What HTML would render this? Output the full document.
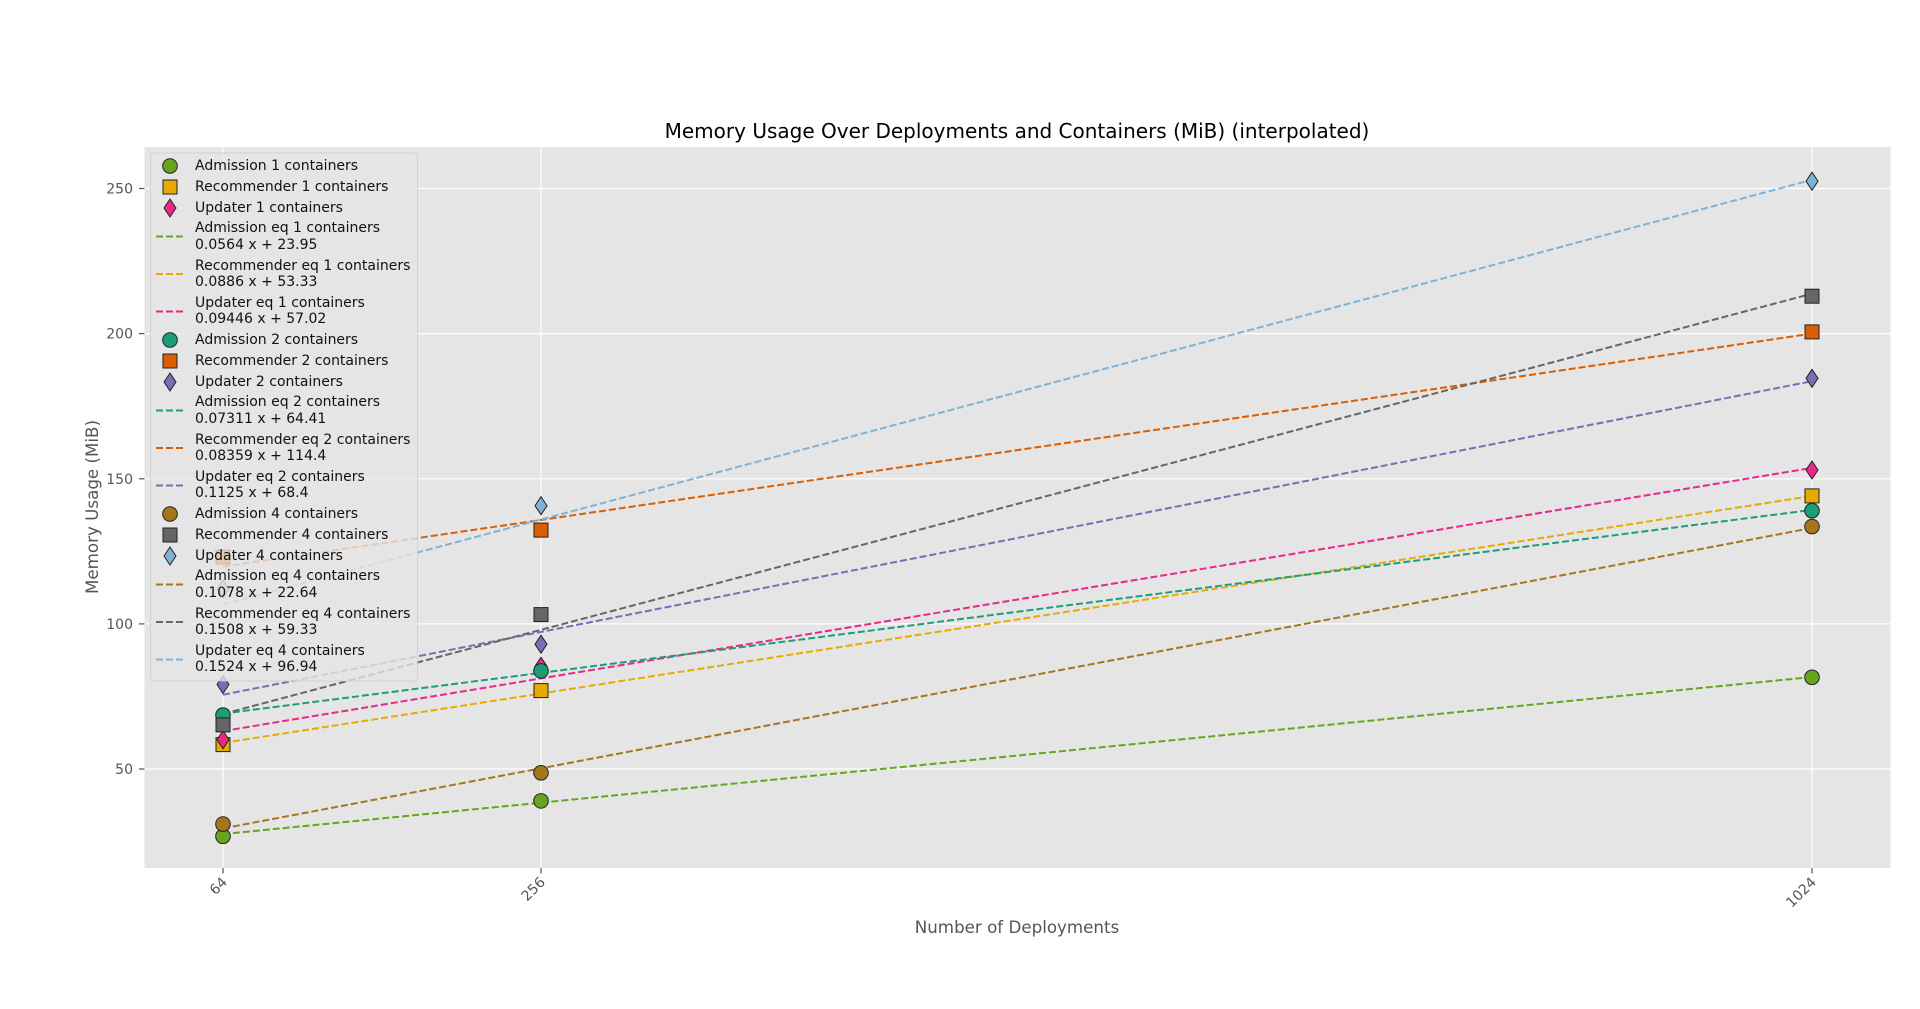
<!DOCTYPE html>
<html><head><meta charset="utf-8"><style>
html,body{margin:0;padding:0;background:#fff;}
svg{display:block;font-family:"DejaVu Sans","Liberation Sans",sans-serif;}
</style></head><body>
<svg width="1920" height="1009" viewBox="0 0 1920 1009" xmlns="http://www.w3.org/2000/svg">
<defs>
<clipPath id="ax"><rect x="144.5" y="147" width="1746" height="721"/></clipPath>
</defs>
<rect x="144.5" y="147" width="1746" height="721" fill="#E5E5E5"/>
<g stroke="#fff" stroke-width="1.2">
<line x1="144.5" x2="1890.5" y1="188.5" y2="188.5"/>
<line x1="144.5" x2="1890.5" y1="333.6" y2="333.6"/>
<line x1="144.5" x2="1890.5" y1="478.8" y2="478.8"/>
<line x1="144.5" x2="1890.5" y1="623.9" y2="623.9"/>
<line x1="144.5" x2="1890.5" y1="769" y2="769"/>
<line x1="223" x2="223" y1="147" y2="868"/>
<line x1="541" x2="541" y1="147" y2="868"/>
<line x1="1812" x2="1812" y1="147" y2="868"/>
</g>
<g stroke="#555" stroke-width="1.2">
<line x1="139" x2="144.5" y1="188.5" y2="188.5"/>
<line x1="139" x2="144.5" y1="333.6" y2="333.6"/>
<line x1="139" x2="144.5" y1="478.8" y2="478.8"/>
<line x1="139" x2="144.5" y1="623.9" y2="623.9"/>
<line x1="139" x2="144.5" y1="769" y2="769"/>
<line x1="223" x2="223" y1="868" y2="873.5"/>
<line x1="541" x2="541" y1="868" y2="873.5"/>
<line x1="1812" x2="1812" y1="868" y2="873.5"/>
</g>
<g fill="#555" font-size="14" text-anchor="end">
<text x="133" y="193.5">250</text>
<text x="133" y="338.6">200</text>
<text x="133" y="483.8">150</text>
<text x="133" y="628.9">100</text>
<text x="133" y="774">50</text>
</g>
<g fill="#555" font-size="14" text-anchor="end">
<text transform="translate(228,883) rotate(-45)">64</text>
<text transform="translate(546,883) rotate(-45)">256</text>
<text transform="translate(1817,883) rotate(-45)">1024</text>
</g>
<text x="1017" y="933" fill="#555" font-size="16.7" text-anchor="middle">Number of Deployments</text>
<text transform="translate(98,507) rotate(-90)" fill="#555" font-size="16.7" text-anchor="middle">Memory Usage (MiB)</text>
<text x="1017" y="138" fill="#000" font-size="20" text-anchor="middle">Memory Usage Over Deployments and Containers (MiB) (interpolated)</text>

<g clip-path="url(#ax)" fill="none" stroke-width="2" stroke-dasharray="7,3">
<line x1="223" y1="834.1" x2="1812" y2="677.0" stroke="#66a61e"/>
<line x1="223" y1="742.9" x2="1812" y2="496.0" stroke="#e6ab02"/>
<line x1="223" y1="731.1" x2="1812" y2="467.9" stroke="#e7298a"/>
<line x1="223" y1="713.6" x2="1812" y2="509.9" stroke="#1b9e77"/>
<line x1="223" y1="566.6" x2="1812" y2="333.6" stroke="#d95f02"/>
<line x1="223" y1="694.7" x2="1812" y2="381.2" stroke="#7570b3"/>
<line x1="223" y1="828.4" x2="1812" y2="528.0" stroke="#a6761d"/>
<line x1="223" y1="713.9" x2="1812" y2="293.7" stroke="#666666"/>
<line x1="223" y1="604.5" x2="1812" y2="179.8" stroke="#7fb3d5"/>
</g>
<g stroke="#222" stroke-width="1">
<g fill="#66a61e"><circle cx="223" cy="836.3" r="7.3"/><circle cx="541" cy="800.9" r="7.3"/><circle cx="1812" cy="677.3" r="7.3"/></g>
<g fill="#e6ab02"><rect x="216" y="737.6" width="14" height="14"/><rect x="534" y="683.6" width="14" height="14"/><rect x="1805" y="488.9" width="14" height="14"/></g>
<g fill="#e7298a"><path d="M223 730.7 l6 9 l-6 9 l-6 -9z"/><path d="M541 657.3 l6 9 l-6 9 l-6 -9z"/><path d="M1812 461 l6 9 l-6 9 l-6 -9z"/></g>
<g fill="#1b9e77"><circle cx="223" cy="715" r="7.3"/><circle cx="541" cy="670.9" r="7.3"/><circle cx="1812" cy="510.7" r="7.3"/></g>
<g fill="#d95f02"><rect x="216" y="550.1" width="14" height="14"/><rect x="534" y="523.1" width="14" height="14"/><rect x="1805" y="324.9" width="14" height="14"/></g>
<g fill="#7570b3"><path d="M223 675.5 l6 9 l-6 9 l-6 -9z"/><path d="M541 635.2 l6 9 l-6 9 l-6 -9z"/><path d="M1812 369.3 l6 9 l-6 9 l-6 -9z"/></g>
<g fill="#a6761d"><circle cx="223" cy="824.1" r="7.3"/><circle cx="541" cy="772.8" r="7.3"/><circle cx="1812" cy="526.6" r="7.3"/></g>
<g fill="#666666"><rect x="216" y="717.9" width="14" height="14"/><rect x="534" y="607.6" width="14" height="14"/><rect x="1805" y="289.2" width="14" height="14"/></g>
<g fill="#7fb3d5"><path d="M223 580 l6 9 l-6 9 l-6 -9z"/><path d="M541 496.7 l6 9 l-6 9 l-6 -9z"/><path d="M1812 172.2 l6 9 l-6 9 l-6 -9z"/></g>
</g>

<rect x="150.5" y="153" width="267" height="528" rx="3" fill="#E5E5E5" fill-opacity="0.8" stroke="#cccccc" stroke-opacity="0.8" stroke-width="1"/>
<g font-size="14" fill="#111">
<text x="195" y="170">Admission 1 containers</text>
<text x="195" y="191">Recommender 1 containers</text>
<text x="195" y="212">Updater 1 containers</text>
<text x="195" y="232">Admission eq 1 containers</text><text x="195" y="249">0.0564 x + 23.95</text>
<text x="195" y="270">Recommender eq 1 containers</text><text x="195" y="286">0.0886 x + 53.33</text>
<text x="195" y="307">Updater eq 1 containers</text><text x="195" y="323">0.09446 x + 57.02</text>
<text x="195" y="344">Admission 2 containers</text>
<text x="195" y="365">Recommender 2 containers</text>
<text x="195" y="386">Updater 2 containers</text>
<text x="195" y="406">Admission eq 2 containers</text><text x="195" y="423">0.07311 x + 64.41</text>
<text x="195" y="444">Recommender eq 2 containers</text><text x="195" y="460">0.08359 x + 114.4</text>
<text x="195" y="481">Updater eq 2 containers</text><text x="195" y="497">0.1125 x + 68.4</text>
<text x="195" y="518">Admission 4 containers</text>
<text x="195" y="539">Recommender 4 containers</text>
<text x="195" y="560">Updater 4 containers</text>
<text x="195" y="580">Admission eq 4 containers</text><text x="195" y="597">0.1078 x + 22.64</text>
<text x="195" y="618">Recommender eq 4 containers</text><text x="195" y="634">0.1508 x + 59.33</text>
<text x="195" y="655">Updater eq 4 containers</text><text x="195" y="671">0.1524 x + 96.94</text>
</g>
<g stroke-width="2" stroke-dasharray="7,3">
<line x1="156" x2="184" y1="236.5" y2="236.5" stroke="#66a61e"/>
<line x1="156" x2="184" y1="274" y2="274" stroke="#e6ab02"/>
<line x1="156" x2="184" y1="311.5" y2="311.5" stroke="#e7298a"/>
<line x1="156" x2="184" y1="410.5" y2="410.5" stroke="#1b9e77"/>
<line x1="156" x2="184" y1="448" y2="448" stroke="#d95f02"/>
<line x1="156" x2="184" y1="485.5" y2="485.5" stroke="#7570b3"/>
<line x1="156" x2="184" y1="584.5" y2="584.5" stroke="#a6761d"/>
<line x1="156" x2="184" y1="622" y2="622" stroke="#666666"/>
<line x1="156" x2="184" y1="659.5" y2="659.5" stroke="#7fb3d5"/>
</g>
<g stroke="#222" stroke-width="1">
<circle cx="170" cy="166" r="7.3" fill="#66a61e"/>
<rect x="163" y="180" width="14" height="14" fill="#e6ab02"/>
<path d="M170 199 l6 9 l-6 9 l-6 -9z" fill="#e7298a"/>
<circle cx="170" cy="340" r="7.3" fill="#1b9e77"/>
<rect x="163" y="354" width="14" height="14" fill="#d95f02"/>
<path d="M170 373 l6 9 l-6 9 l-6 -9z" fill="#7570b3"/>
<circle cx="170" cy="514" r="7.3" fill="#a6761d"/>
<rect x="163" y="528" width="14" height="14" fill="#666666"/>
<path d="M170 547 l6 9 l-6 9 l-6 -9z" fill="#7fb3d5"/>
</g>
</svg>
</body></html>
